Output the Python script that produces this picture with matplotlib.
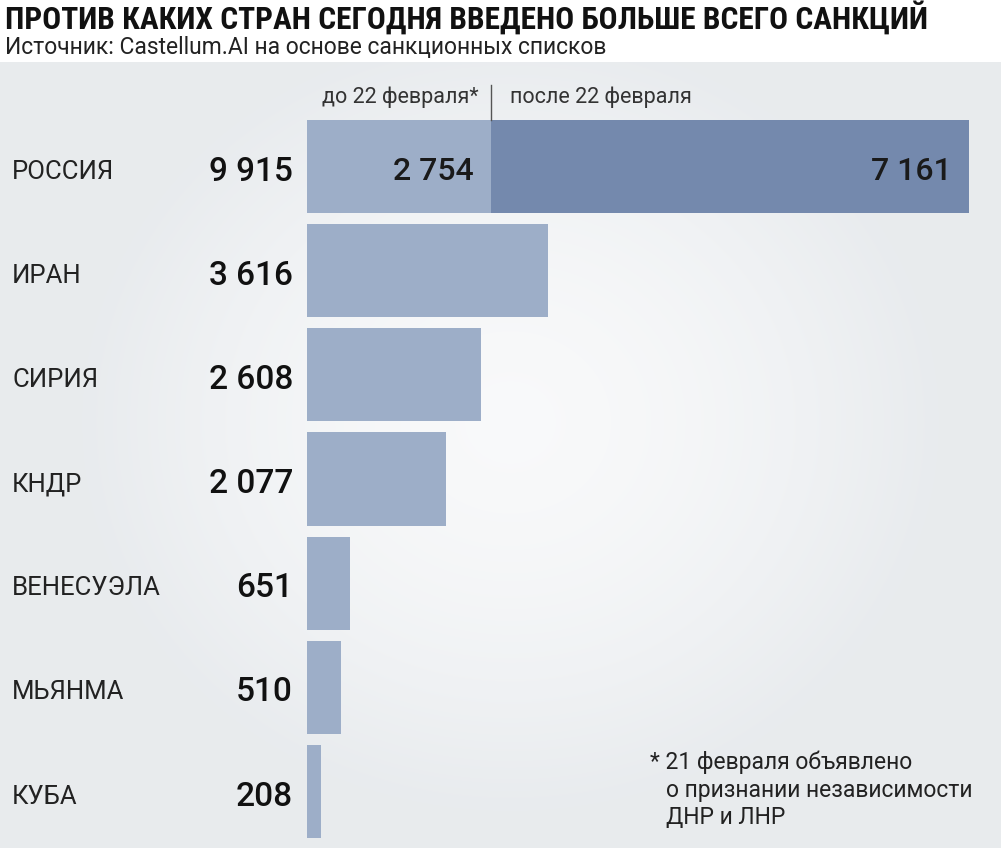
import numpy as np
import matplotlib
matplotlib.use("Agg")
import matplotlib.pyplot as plt
import matplotlib.transforms as mtransforms

# data
countries = ['РОССИЯ', 'ИРАН', 'СИРИЯ', 'КНДР', 'ВЕНЕСУЭЛА', 'МЬЯНМА', 'КУБА']
totals = [9915, 3616, 2608, 2077, 651, 510, 208]
russia_parts = [2754, 7161]
part_labels = ['до 22 февраля*', 'после 22 февраля']

light = '#9daec8'
dark = '#7489ad'
W, H = 1001, 848

narrow = ['Roboto Condensed', 'DejaVu Sans']
plain = ['Roboto', 'DejaVu Sans']

def fmt(v):
    return f"{v:,}".replace(',', ' ')

fig = plt.figure(figsize=(W / 100, H / 100), dpi=100)
fig.patch.set_facecolor('white')

# grey background with a soft light spot in the middle
bg = fig.add_axes([0, 0, 1, (H - 62) / H])
yy, xx = np.mgrid[0:786, 0:W]
r = np.sqrt(((xx - 510) / 430.0) ** 2 + ((yy - 360) / 390.0) ** 2)
t = np.clip(r, 0, 1) ** 1.6
c0 = np.array([0.975, 0.978, 0.982])
c1 = np.array([0.91, 0.922, 0.933])
img = c0 + (c1 - c0) * t[..., None]
bg.imshow(img, aspect='auto', extent=[0, W, 786, 0])
bg.set_axis_off()

# bar axes
ax = fig.add_axes([307 / W, (H - 838) / H, 662 / W, 718 / H])
ax.set_facecolor('none')
h = 93 / 104
ypos = np.arange(len(countries))
ax.barh(ypos[1:], totals[1:], height=h, color=light, edgecolor='none')
ax.barh(0, russia_parts[0], height=h, color=light, edgecolor='none')
ax.barh(0, russia_parts[1], left=russia_parts[0], height=h, color=dark, edgecolor='none')
ax.set_xlim(0, totals[0])
ax.set_ylim(len(countries) - 1 + h / 2, -h / 2)
ax.set_axis_off()

# values inside the Russia bar
pad = 17 * totals[0] / 662
ax.text(russia_parts[0] - pad, 0.05, fmt(russia_parts[0]), ha='right', va='center',
        fontsize=23, fontweight='medium', family=plain, color='#1a1a1a')
ax.text(sum(russia_parts) - pad, 0.05, fmt(russia_parts[1]), ha='right', va='center',
        fontsize=23, fontweight='medium', family=plain, color='#1a1a1a')

# separator line and legend labels above
ax.plot([russia_parts[0], russia_parts[0]], [-h / 2, -h / 2 - 0.34], color='#555555',
        lw=1, clip_on=False)
ax.text(russia_parts[0] - 12 * totals[0] / 662, -h / 2 - 0.22, part_labels[0], ha='right',
        va='center', fontsize=15.5, family=plain, color='#333333')
ax.text(russia_parts[0] + 19 * totals[0] / 662, -h / 2 - 0.22, part_labels[1], ha='left',
        va='center', fontsize=15.5, family=plain, color='#333333')

# country names and totals on the left
trans = mtransforms.blended_transform_factory(fig.transFigure, ax.transData)
for i, (name, v) in enumerate(zip(countries, totals)):
    ax.text(12 / W, i + 0.05, name, transform=trans, ha='left', va='center',
            fontsize=18.5, family=plain, color='#222222')
    ax.text(293 / W, i + 0.05, fmt(v), transform=trans, ha='right', va='center',
            fontsize=24, fontweight='medium', family=plain, color='#111111')

# titles
fig.text(5 / W, 1 - 18 / H, 'ПРОТИВ КАКИХ СТРАН СЕГОДНЯ ВВЕДЕНО БОЛЬШЕ ВСЕГО САНКЦИЙ',
         ha='left', va='center', fontsize=22.6, fontweight='bold', family=narrow, color='#111111')
fig.text(5 / W, 1 - 47 / H, 'Источник: Castellum.AI на основе санкционных списков',
         ha='left', va='center', fontsize=16.5, family=plain, color='#222222')

# footnote
fig.text(650 / W, 1 - 762 / H, '* 21 февраля объявлено', ha='left', va='center',
         fontsize=16.5, family=plain, color='#222222')
fig.text(666 / W, 1 - 790 / H, 'о признании независимости', ha='left', va='center',
         fontsize=16.5, family=plain, color='#222222')
fig.text(666 / W, 1 - 818 / H, 'ДНР и ЛНР', ha='left', va='center',
         fontsize=16.5, family=plain, color='#222222')

fig.savefig('out.png', dpi=100)
